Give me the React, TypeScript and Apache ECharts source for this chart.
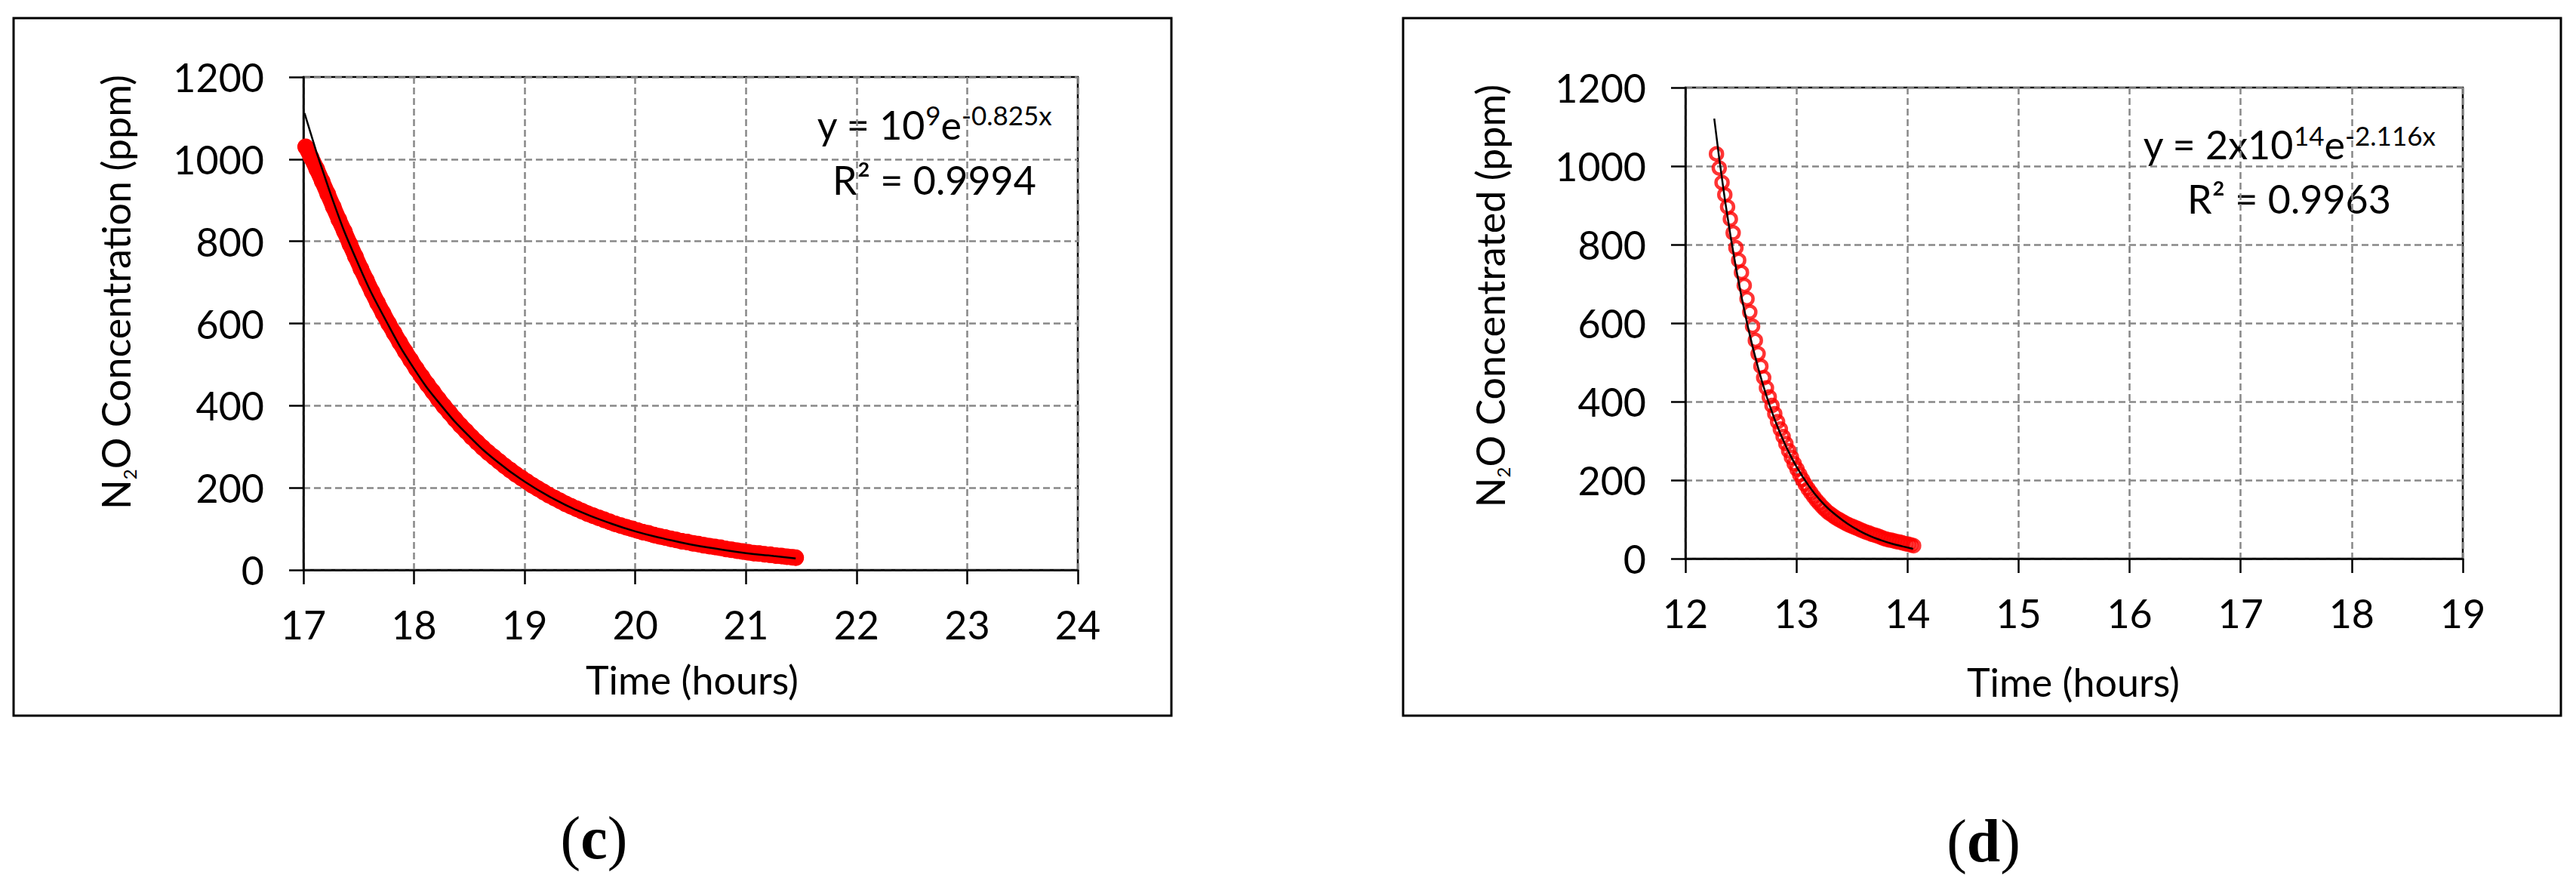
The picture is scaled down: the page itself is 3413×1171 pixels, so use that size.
import React, { useEffect, useRef } from "react";
import * as echarts from "echarts";

// ---------- (c) panel data ----------
const leftTime = [
  17.02, 17.07, 17.12, 17.17, 17.22, 17.27, 17.32, 17.37, 17.42, 17.47,
  17.52, 17.57, 17.62, 17.67, 17.72, 17.77, 17.82, 17.87, 17.92, 17.97,
  18.02, 18.07, 18.12, 18.17, 18.22, 18.27, 18.32, 18.37, 18.42, 18.47,
  18.52, 18.57, 18.62, 18.67, 18.72, 18.77, 18.82, 18.87, 18.92, 18.97,
  19.02, 19.07, 19.12, 19.17, 19.22, 19.27, 19.32, 19.37, 19.42, 19.47,
  19.52, 19.57, 19.62, 19.67, 19.72, 19.77, 19.82, 19.87, 19.92, 19.97,
  20.02, 20.07, 20.12, 20.17, 20.22, 20.27, 20.32, 20.37, 20.42, 20.47,
  20.52, 20.57, 20.62, 20.67, 20.72, 20.77, 20.82, 20.87, 20.92, 20.97,
  21.02, 21.07, 21.12, 21.17, 21.22, 21.27, 21.32, 21.37, 21.42, 21.45,
];
const leftConc = [
  1030, 1004, 976, 946, 915, 884, 853, 824, 793, 763,
  733, 705, 677, 650, 625, 600, 577, 554, 532, 511,
  490, 471, 452, 434, 416, 399, 383, 367, 352, 338,
  324, 311, 298, 286, 275, 264, 253, 243, 233, 224,
  215, 206, 198, 190, 182, 175, 168, 161, 155, 149,
  143, 137, 132, 127, 122, 117, 112, 108, 104, 100,
  96, 92, 89, 85, 82, 79, 76, 73, 70, 68,
  65, 63, 60, 58, 56, 54, 51, 49, 47, 45,
  43, 41, 40, 38, 37, 35, 34, 32, 31, 30,
];
const leftFitTime = [17.01, 17.25, 17.5, 17.75, 18, 18.25, 18.5, 18.75, 19, 19.25, 19.5, 19.75, 20, 20.25, 20.5, 20.75, 21, 21.25, 21.45];
const leftFitConc = [1112, 912, 742, 605, 490, 399, 325, 264, 215, 175, 142, 116, 94, 77, 62, 51, 41, 34, 28];

// ---------- (d) panel data ----------
const rightTime = [
  12.28, 12.305, 12.33, 12.355, 12.38, 12.405, 12.43, 12.455, 12.48, 12.505,
  12.53, 12.555, 12.58, 12.605, 12.63, 12.655, 12.68, 12.705, 12.73, 12.755,
  12.78, 12.805, 12.83, 12.855, 12.88, 12.905, 12.93, 12.955, 12.98, 13.005,
  13.03, 13.055, 13.08, 13.105, 13.13, 13.155, 13.18, 13.205, 13.23, 13.255,
  13.28, 13.305, 13.33, 13.355, 13.38, 13.405, 13.43, 13.455, 13.48, 13.505,
  13.53, 13.555, 13.58, 13.605, 13.63, 13.655, 13.68, 13.705, 13.73, 13.755,
  13.78, 13.805, 13.83, 13.855, 13.88, 13.905, 13.93, 13.955, 13.98, 14.005,
  14.03, 14.055,
];
const rightConc = [
  1031, 995, 958, 927, 896, 865, 830, 792, 760, 729,
  696, 662, 628, 592, 556, 522, 490, 461, 435, 412,
  390, 369, 349, 330, 311, 293, 275, 258, 242, 228,
  214, 201, 189, 178, 168, 158, 149, 141, 133, 126,
  119, 114, 109, 104, 100, 96, 92, 88, 85, 82,
  79, 76, 73, 70, 67, 65, 62, 60, 58, 55,
  52, 50, 48, 47, 45, 43, 42, 40, 38, 37,
  35, 33,
];
const rightFitTime = [12.26, 12.36, 12.46, 12.56, 12.66, 12.76, 12.86, 12.96, 13.06, 13.16, 13.26, 13.36, 13.46, 13.56, 13.66, 13.76, 13.86, 13.96, 14.05];
const rightFitConc = [1121, 907, 734, 594, 481, 389, 315, 255, 207, 167, 135, 110, 89, 72, 58, 47, 38, 31, 25];

// axis ranges
const leftXRange = [17, 24];
const rightXRange = [12, 19];
const yRange = [0, 1200];

// texts
const xTitle = "Time (hours)";
const leftYTitle = "N{sub|2}O Concentration (ppm)";
const rightYTitle = "N{sub|2}O Concentrated (ppm)";
const leftEq = "y = 10{sup|9}e{sup|-0.825x}";
const leftR2 = "R² = 0.9994";
const rightEq = "y = 2x10{sup|14}e{sup|-2.116x}";
const rightR2 = "R² = 0.9963";

const zip = (xs: number[], ys: number[]) => xs.map((x, i) => [x, ys[i]]);

const FONT = "Lato";

function xAxisCfg(gridIndex: number, range: number[]) {
  return {
    type: "value",
    gridIndex,
    min: range[0],
    max: range[1],
    interval: 1,
    axisLine: { show: true, onZero: false, lineStyle: { color: "#000", width: 2.5 } },
    axisTick: { show: true, inside: false, length: 19, lineStyle: { color: "#000", width: 2.5 } },
    axisLabel: {
      color: "#000",
      fontFamily: FONT,
      fontSize: 52,
      margin: 72,
      verticalAlign: "middle",
      showMinLabel: true,
      showMaxLabel: true,
      formatter: (v: number) => String(v),
    },
    splitLine: { show: true, lineStyle: { color: "#888888", width: 2.5, type: [9, 5] } },
  };
}

function yAxisCfg(gridIndex: number) {
  return {
    type: "value",
    gridIndex,
    min: yRange[0],
    max: yRange[1],
    interval: 200,
    axisLine: { show: true, onZero: false, lineStyle: { color: "#000", width: 2.5 } },
    axisTick: { show: true, inside: false, length: 19, lineStyle: { color: "#000", width: 2.5 } },
    axisLabel: {
      color: "#000",
      fontFamily: FONT,
      fontSize: 52,
      margin: 52,
      showMinLabel: true,
      showMaxLabel: true,
      formatter: (v: number) => String(v),
    },
    splitLine: { show: true, lineStyle: { color: "#888888", width: 2.5, type: [9, 5] } },
  };
}

function yTitle(x: number, y: number, text: string) {
  return {
    type: "text",
    x,
    y,
    rotation: Math.PI / 2,
    style: {
      text,
      fill: "#000",
      fontFamily: FONT,
      fontSize: 52,
      lineHeight: 60,
      align: "center",
      verticalAlign: "middle",
      rich: {
        sub: { fontFamily: FONT, fontSize: 24, lineHeight: 14, verticalAlign: "bottom", fill: "#000" },
      },
    },
  };
}

function plainText(x: number, y: number, text: string) {
  return {
    type: "text",
    x,
    y,
    style: {
      text,
      fill: "#000",
      fontFamily: FONT,
      fontSize: 52,
      align: "center",
      verticalAlign: "middle",
    },
  };
}

function eqText(x: number, y: number, text: string) {
  return {
    type: "text",
    x,
    y,
    style: {
      text,
      fill: "#000",
      fontFamily: FONT,
      fontSize: 52,
      lineHeight: 60,
      align: "center",
      verticalAlign: "middle",
      rich: {
        sup: { fontFamily: FONT, fontSize: 35, lineHeight: 41, verticalAlign: "top", fill: "#000" },
      },
    },
  };
}

function panelLabel(x: number, y: number, letter: string) {
  return {
    type: "text",
    x,
    y,
    style: {
      text: "{p|(}{b|" + letter + "}{p|)}",
      align: "center",
      verticalAlign: "middle",
      fill: "#000",
      rich: {
        p: { fontFamily: "Liberation Serif", fontSize: 80, fill: "#000" },
        b: { fontFamily: "Liberation Serif", fontSize: 80, fontWeight: "bold", fill: "#000" },
      },
    },
  };
}

function boxRect(x: number) {
  return {
    type: "rect",
    shape: { x, y: 24, width: 1534, height: 924 },
    style: { fill: "rgba(0,0,0,0)", stroke: "#000", lineWidth: 3 },
    silent: true,
  };
}

export default function App() {
  const ref = useRef<HTMLDivElement>(null);

  useEffect(() => {
    if (!ref.current) return;
    const chart = echarts.init(ref.current, null, { renderer: "svg" });
    const option = {
      animation: false,
      backgroundColor: "#ffffff",
      grid: [
        { left: 402, top: 102, width: 1026, height: 653, show: true, borderColor: "#000", borderWidth: 2.5, backgroundColor: "rgba(0,0,0,0)" },
        { left: 2233, top: 116, width: 1030, height: 624, show: true, borderColor: "#000", borderWidth: 2.5, backgroundColor: "rgba(0,0,0,0)" },
      ],
      xAxis: [xAxisCfg(0, leftXRange), xAxisCfg(1, rightXRange)],
      yAxis: [yAxisCfg(0), yAxisCfg(1)],
      series: [
        {
          name: "N2O (c)",
          type: "line",
          xAxisIndex: 0,
          yAxisIndex: 0,
          data: zip(leftTime, leftConc),
          symbol: "circle",
          symbolSize: 22,
          showAllSymbol: true,
          itemStyle: { color: "#ff0000" },
          lineStyle: { color: "#ff0000", width: 21, cap: "round", join: "round" },
          emphasis: { disabled: true },
          z: 3,
        },
        {
          name: "Fit (c)",
          type: "line",
          xAxisIndex: 0,
          yAxisIndex: 0,
          data: zip(leftFitTime, leftFitConc),
          smooth: true,
          symbol: "none",
          lineStyle: { color: "#000", width: 2.5 },
          emphasis: { disabled: true },
          z: 4,
        },
        {
          name: "N2O (d)",
          type: "scatter",
          xAxisIndex: 1,
          yAxisIndex: 1,
          data: zip(rightTime, rightConc),
          symbol: "circle",
          symbolSize: 16,
          itemStyle: { color: "rgba(255,255,255,0)", borderColor: "#ff0000", borderWidth: 4.5 },
          emphasis: { disabled: true },
          z: 3,
        },
        {
          name: "Fit (d)",
          type: "line",
          xAxisIndex: 1,
          yAxisIndex: 1,
          data: zip(rightFitTime, rightFitConc),
          smooth: true,
          symbol: "none",
          lineStyle: { color: "#000", width: 2.5 },
          emphasis: { disabled: true },
          z: 4,
        },
      ],
      graphic: [
        boxRect(18),
        boxRect(1859),
        yTitle(153, 387, leftYTitle),
        yTitle(1973.5, 392, rightYTitle),
        plainText(917, 899.5, xTitle),
        plainText(2747, 902.5, xTitle),
        eqText(1238, 164.5, leftEq),
        plainText(1238, 237.5, leftR2),
        eqText(3033, 191, rightEq),
        plainText(3033, 262.5, rightR2),
        panelLabel(787, 1110, "c"),
        panelLabel(2628, 1114, "d"),
      ],
    };
    chart.setOption(option as any);
    return () => chart.dispose();
  }, []);

  return (
    <div
      ref={ref}
      style={{ position: "absolute", left: 0, top: 0, width: 3413, height: 1171, background: "#fff" }}
    />
  );
}
